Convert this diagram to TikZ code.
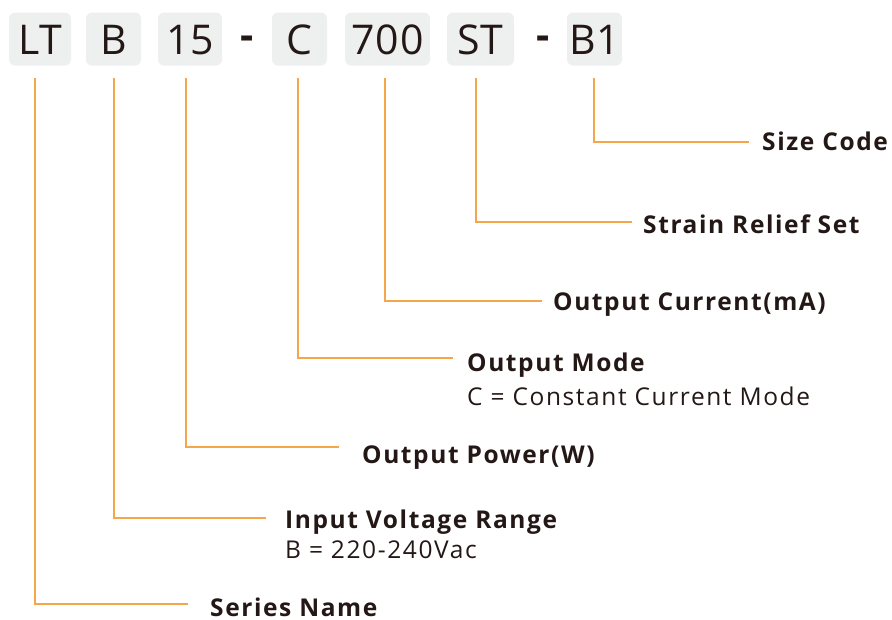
\documentclass[tikz,border=0pt]{standalone}
\usepackage{fontspec}
\setmainfont{Open Sans}[LetterSpace=6.5]
\newfontfamily\codefont{Open Sans}[LetterSpace=2]
\definecolor{boxgray}{HTML}{EEEFEF}
\definecolor{ink}{HTML}{231815}
\definecolor{leadc}{HTML}{F5A54A}
\begin{document}
\begin{tikzpicture}[x=1pt,y=-1pt,
  codebox/.style={fill=boxgray,rounded corners=6pt,minimum height=53pt,inner sep=0pt,
    font=\codefont\fontsize{41}{41}\selectfont,text=ink,text height=30pt,text depth=0pt},
  sep/.style={font=\codefont\bfseries\fontsize{41}{41}\selectfont,text=ink,inner sep=0pt},
  title/.style={anchor=west,inner sep=0pt,font=\bfseries\fontsize{24.5}{24.5}\selectfont,text=ink,
    text height=18pt,text depth=0pt},
  sub/.style={anchor=west,inner sep=0pt,font=\fontsize{24.5}{24.5}\selectfont,text=ink,
    text height=18pt,text depth=0pt},
  lead/.style={draw=leadc,line width=1.4pt}]
\useasboundingbox (0,0) rectangle (892,619);
% code boxes
\node[codebox,minimum width=62pt] (lt) at (40,39) {LT};
\node[codebox,minimum width=55pt] (b) at (113.5,39) {B};
\node[codebox,minimum width=64pt] (p15) at (190,39) {15};
\node[sep] (d1) at (247,43) {-};
\node[codebox,minimum width=55pt] (c) at (299.5,39) {C};
\node[codebox,minimum width=85pt] (i700) at (387.5,39) {700};
\node[codebox,minimum width=67pt] (st) at (480.5,39) {ST};
\node[sep] (d2) at (543,43) {-};
\node[codebox,minimum width=55pt] (b1) at (594.5,39) {B1};
% labels
\node[title] (sz) at (762,141) {Size Code};
\node[title] (sr) at (643,224) {Strain Relief Set};
\node[title] (oc) at (553,301) {Output Current(mA)};
\node[title] (om) at (467,362) {Output Mode};
\node[sub] (omd) at (467,396) {C = Constant Current Mode};
\node[title] (op) at (362,454) {Output Power(W)};
\node[title] (iv) at (285,519) {Input Voltage Range};
\node[sub] (ivd) at (285,549) {B = 220-240Vac};
\node[title] (sn) at (210,607) {Series Name};
% connector ends
\coordinate (tsz) at (594,78); \coordinate (esz) at (749,142);
\coordinate (tsr) at (476,78); \coordinate (esr) at (632,222);
\coordinate (toc) at (385,78); \coordinate (eoc) at (542,301);
\coordinate (tom) at (298,78); \coordinate (eom) at (453,358);
\coordinate (top) at (186,78); \coordinate (eop) at (339,447);
\coordinate (tiv) at (114,78); \coordinate (eiv) at (266,518);
\coordinate (tsn) at (35,78);  \coordinate (esn) at (188,604);
\draw[lead] (tsz) |- (esz);
\draw[lead] (tsr) |- (esr);
\draw[lead] (toc) |- (eoc);
\draw[lead] (tom) |- (eom);
\draw[lead] (top) |- (eop);
\draw[lead] (tiv) |- (eiv);
\draw[lead] (tsn) |- (esn);
\end{tikzpicture}
\end{document}
